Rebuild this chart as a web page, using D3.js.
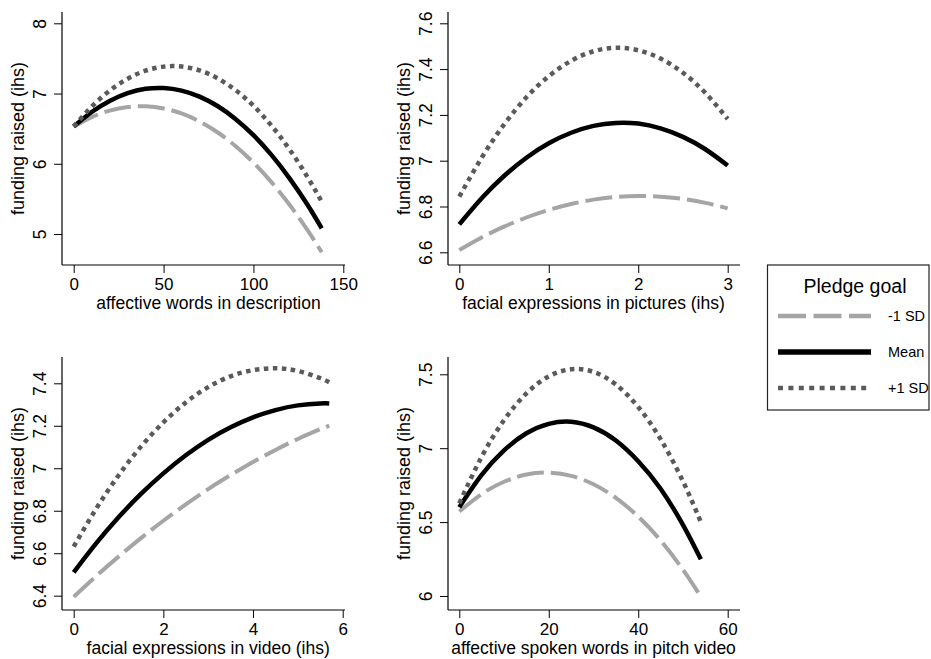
<!DOCTYPE html>
<html>
<head>
<meta charset="utf-8">
<script src="https://cdn.jsdelivr.net/npm/d3@7"></script>
<style>
body { margin: 0; background: #fff; }
text { font-family: "Liberation Sans", Arial, sans-serif; fill: #000; }
</style>
</head>
<body>
<svg width="931" height="659"></svg>
<script>
var seriesNames = ["-1 SD", "Mean", "+1 SD"];
var legendTitle = "Pledge goal";
var yTitle = "funding raised (ihs)";

// panel 1: affective words in description
var descX = [0, 10, 20, 30, 40, 50, 60, 70, 80, 90, 100, 110, 120, 130, 138];
var descLow = [6.530, 6.664, 6.757, 6.808, 6.818, 6.788, 6.716, 6.603, 6.449, 6.253, 6.016, 5.738, 5.419, 5.058, 4.740];
var descMean = [6.530, 6.737, 6.895, 7.006, 7.067, 7.079, 7.042, 6.956, 6.822, 6.639, 6.407, 6.126, 5.796, 5.419, 5.080];
var descHigh = [6.530, 6.813, 7.040, 7.211, 7.325, 7.383, 7.384, 7.329, 7.217, 7.049, 6.825, 6.544, 6.207, 5.814, 5.460];
var descXTicks = [0, 50, 100, 150];
var descYTicks = [5, 6, 7, 8];

// panel 2: facial expressions in pictures
var picX = [0, 0.25, 0.5, 0.75, 1, 1.25, 1.5, 1.75, 2, 2.25, 2.5, 2.75, 3];
var picLow = [6.610, 6.665, 6.712, 6.752, 6.785, 6.811, 6.830, 6.842, 6.846, 6.843, 6.833, 6.816, 6.792];
var picMean = [6.722, 6.836, 6.933, 7.013, 7.076, 7.122, 7.152, 7.165, 7.162, 7.141, 7.104, 7.050, 6.979];
var picHigh = [6.843, 7.013, 7.158, 7.277, 7.369, 7.436, 7.478, 7.493, 7.482, 7.446, 7.384, 7.296, 7.182];
var picXTicks = [0, 1, 2, 3];
var picYTicks = [6.6, 6.8, 7, 7.2, 7.4, 7.6];

// panel 3: facial expressions in video
var vidX = [0, 0.5, 1, 1.5, 2, 2.5, 3, 3.5, 4, 4.5, 5, 5.5, 5.7];
var vidLow = [6.395, 6.492, 6.584, 6.671, 6.753, 6.830, 6.902, 6.968, 7.030, 7.086, 7.138, 7.184, 7.201];
var vidMean = [6.510, 6.646, 6.769, 6.879, 6.976, 7.061, 7.134, 7.193, 7.240, 7.274, 7.296, 7.305, 7.305];
var vidHigh = [6.631, 6.809, 6.966, 7.102, 7.216, 7.310, 7.382, 7.433, 7.462, 7.471, 7.458, 7.424, 7.405];
var vidXTicks = [0, 2, 4, 6];
var vidYTicks = [6.4, 6.6, 6.8, 7, 7.2, 7.4];

// panel 4: affective spoken words in pitch video
var spokenX = [0, 5, 10, 15, 20, 25, 30, 35, 40, 45, 50, 54];
var spokenLow = [6.572, 6.690, 6.773, 6.822, 6.835, 6.813, 6.756, 6.664, 6.537, 6.376, 6.178, 5.995];
var spokenMean = [6.601, 6.819, 6.985, 7.101, 7.165, 7.179, 7.141, 7.052, 6.912, 6.726, 6.481, 6.248];
var spokenHigh = [6.627, 6.942, 7.190, 7.371, 7.486, 7.534, 7.516, 7.431, 7.279, 7.061, 6.776, 6.500];
var spokenXTicks = [0, 20, 40, 60];
var spokenYTicks = [6, 6.5, 7, 7.5];

var panels = [
  {xs: descX, ys: [descLow, descMean, descHigh], xTicks: descXTicks, yTicks: descYTicks,
   xTitle: "affective words in description"},
  {xs: picX, ys: [picLow, picMean, picHigh], xTicks: picXTicks, yTicks: picYTicks,
   xTitle: "facial expressions in pictures (ihs)"},
  {xs: vidX, ys: [vidLow, vidMean, vidHigh], xTicks: vidXTicks, yTicks: vidYTicks,
   xTitle: "facial expressions in video (ihs)"},
  {xs: spokenX, ys: [spokenLow, spokenMean, spokenHigh], xTicks: spokenXTicks, yTicks: spokenYTicks,
   xTitle: "affective spoken words in pitch video"}
];

// pixel layout of each panel (axis extents, first/last tick positions)
var layout = [
  {left: 62, right: 345, top: 12, bottom: 265, x0: 73.7, x1: 343.3, y0: 234, y1: 23.3},
  {left: 448, right: 740, top: 12, bottom: 265, x0: 459.3, x1: 727.7, y0: 252.3, y1: 23.3},
  {left: 62, right: 345, top: 357, bottom: 610, x0: 73.7, x1: 342.7, y0: 595.7, y1: 383.3},
  {left: 448, right: 740, top: 357, bottom: 610, x0: 459.3, x1: 727.7, y0: 596, y1: 374.3}
];

var styles = [
  {color: "#a5a5a5", width: 4, dash: "27,7"},
  {color: "#000000", width: 4.5, dash: null},
  {color: "#5a5a5a", width: 4.5, dash: "4.5,4.5"}
];

var svg = d3.select("svg");
var fmt = d3.format("~g");

panels.forEach(function(p, i) {
  var L = layout[i];
  var x = d3.scaleLinear().domain(d3.extent(p.xTicks)).range([L.x0, L.x1]);
  var y = d3.scaleLinear().domain(d3.extent(p.yTicks)).range([L.y0, L.y1]);
  var g = svg.append("g");

  // x axis
  var xa = g.append("g").attr("transform", "translate(0," + L.bottom + ")")
    .call(d3.axisBottom(x).tickValues(p.xTicks).tickSize(8).tickFormat(fmt));
  xa.select(".domain").remove();
  xa.selectAll(".tick line").attr("stroke", "#000").attr("stroke-width", 1);
  xa.selectAll(".tick text").attr("y", 25).attr("dy", 0)
    .style("font-size", "17px").attr("fill", "#000");
  g.append("line").attr("x1", L.left).attr("x2", L.right)
    .attr("y1", L.bottom).attr("y2", L.bottom).attr("stroke", "#000").attr("stroke-width", 1.2);

  // y axis
  var ya = g.append("g").attr("transform", "translate(" + L.left + ",0)")
    .call(d3.axisLeft(y).tickValues(p.yTicks).tickSize(8).tickFormat(fmt));
  ya.select(".domain").remove();
  ya.selectAll(".tick line").attr("stroke", "#000").attr("stroke-width", 1);
  ya.selectAll(".tick text").attr("x", 0).attr("y", 0).attr("dy", 0)
    .attr("transform", "translate(-16,0) rotate(-90)")
    .attr("text-anchor", "middle")
    .style("font-size", "17.5px").attr("fill", "#000");
  g.append("line").attr("x1", L.left).attr("x2", L.left)
    .attr("y1", L.top).attr("y2", L.bottom).attr("stroke", "#000").attr("stroke-width", 1.2);

  // titles
  g.append("text")
    .attr("transform", "translate(" + ((L.x0 + L.x1) / 2) + "," + (L.bottom + 44) + ")")
    .attr("text-anchor", "middle").style("font-size", "17.5px")
    .text(p.xTitle);
  g.append("text")
    .attr("transform", "translate(" + (L.left - 38) + "," + ((L.top + L.bottom) / 2) + ") rotate(-90)")
    .attr("text-anchor", "middle").style("font-size", "18px")
    .text(yTitle);

  // curves
  p.ys.forEach(function(vals, k) {
    var st = styles[k];
    var line = d3.line()
      .x(function(d, j) { return x(p.xs[j]); })
      .y(function(d) { return y(d); })
      .curve(d3.curveNatural);
    g.append("path")
      .attr("d", line(vals))
      .attr("fill", "none")
      .attr("stroke", st.color)
      .attr("stroke-width", st.width)
      .attr("stroke-dasharray", st.dash)
      .attr("stroke-linecap", "butt");
  });
});

// legend
var leg = svg.append("g");
leg.append("rect").attr("x", 767.5).attr("y", 265).attr("width", 161.5).attr("height", 145)
  .attr("fill", "#fff").attr("stroke", "#222").attr("stroke-width", 1.2);
leg.append("text").attr("x", 855).attr("y", 293).attr("text-anchor", "middle")
  .style("font-size", "19.5px").text(legendTitle);
var rowY = d3.scalePoint().domain(seriesNames).range([316, 388]);
seriesNames.forEach(function(name, k) {
  var st = styles[k];
  leg.append("line").attr("x1", 778).attr("x2", 871)
    .attr("y1", rowY(name)).attr("y2", rowY(name))
    .attr("stroke", st.color).attr("stroke-width", k === 1 ? 5.5 : 4.5)
    .attr("stroke-dasharray", k === 0 ? "28,7.5" : (k === 2 ? "5,5.4" : null));
  leg.append("text").attr("x", 888).attr("y", rowY(name)).attr("dy", "0.36em")
    .style("font-size", "14.5px").text(name);
});
</script>
</body>
</html>
